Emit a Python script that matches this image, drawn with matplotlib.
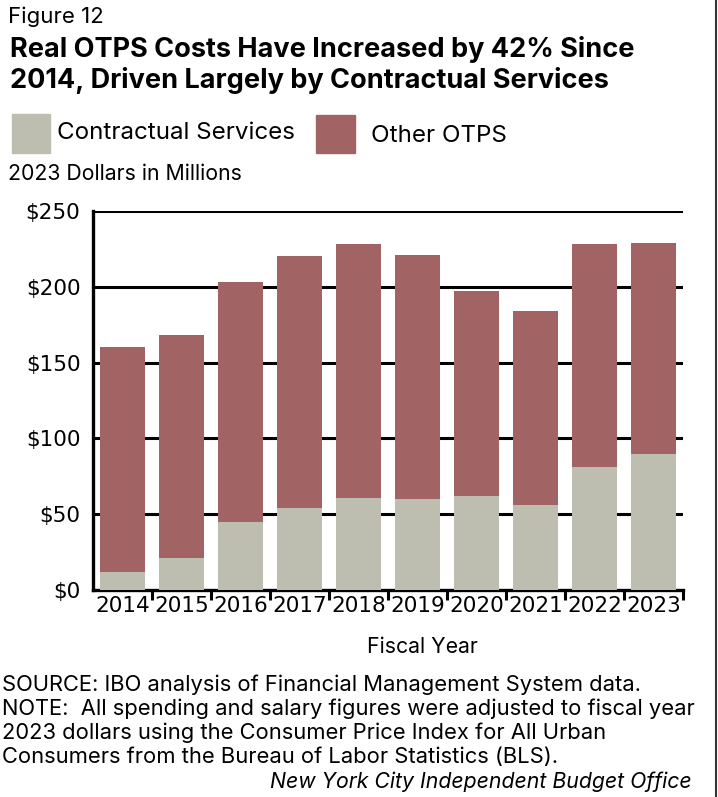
import matplotlib.pyplot as plt
import matplotlib.patches as mpatches
import numpy as np

# Real OTPS spending, 2023 dollars in millions
years = ['2014', '2015', '2016', '2017', '2018', '2019', '2020', '2021', '2022', '2023']
contractual = [12, 21, 45, 54, 61, 60, 62, 56, 81, 90]
totals = [160, 168, 203, 220, 228, 221, 197, 184, 228, 229]
other_otps = [t - c for t, c in zip(totals, contractual)]

GREY = '#bdbeb0'
RED = '#a26364'
TEXT_FONT = ['Inter', 'DejaVu Sans']
TICK_FONT = ['DejaVu Sans']

W, H = 718, 797
fig = plt.figure(figsize=(W / 100, H / 100), dpi=100)


def fx(px):
    return px / W


def fy(py):
    return 1 - py / H


ax = fig.add_axes([fx(93), fy(590), fx(683) - fx(93), fy(211) - fy(590)])

x = np.arange(len(years))
ax.bar(x, contractual, width=0.75, color=GREY, zorder=3)
ax.bar(x, other_otps, width=0.75, bottom=contractual, color=RED, zorder=3)

ax.set_xlim(-0.5, len(years) - 0.5)
ax.set_ylim(0, 250)
ax.set_yticks(range(0, 251, 50))
ax.set_yticklabels([f'${v}' for v in range(0, 251, 50)], fontfamily=TICK_FONT, fontsize=15.5)
ax.tick_params(axis='y', length=0, pad=9)
for v in range(50, 251, 50):
    ax.axhline(v, color='black', lw=2.2, zorder=1)

# year labels centred under bars, tick marks on the category boundaries
ax.set_xticks(x)
ax.set_xticklabels(years, fontfamily=TICK_FONT, fontsize=15.5)
ax.tick_params(axis='x', length=0, pad=4)
ax.set_xticks(np.arange(0.5, len(years), 1), minor=True)
ax.tick_params(axis='x', which='minor', length=7, width=2.2, direction='out')

for side in ['top', 'right']:
    ax.spines[side].set_visible(False)
for side in ['left', 'bottom']:
    ax.spines[side].set_linewidth(2.4)

# header
fig.text(fx(8), fy(17), 'Figure 12', fontfamily=TEXT_FONT, fontsize=16, va='center')
fig.text(fx(10), fy(57), 'Real OTPS Costs Have Increased by 42% Since',
         fontfamily=TEXT_FONT, fontsize=19.5, fontweight='bold', va='baseline')
fig.text(fx(10), fy(88), '2014, Driven Largely by Contractual Services',
         fontfamily=TEXT_FONT, fontsize=19.5, fontweight='bold', va='baseline')

# legend
fig.patches.append(mpatches.Rectangle((fx(12), fy(153)), fx(38), fy(114) - fy(153),
                                      transform=fig.transFigure, color=GREY))
fig.patches.append(mpatches.Rectangle((fx(316), fy(153)), fx(39), fy(115) - fy(153),
                                      transform=fig.transFigure, color=RED))
fig.text(fx(57), fy(133), 'Contractual Services', fontfamily=TEXT_FONT, fontsize=17.4, va='center')
fig.text(fx(371), fy(136), 'Other OTPS', fontfamily=TEXT_FONT, fontsize=17.4, va='center')
fig.text(fx(8), fy(174), '2023 Dollars in Millions', fontfamily=TEXT_FONT, fontsize=15.3, va='center')

fig.text(fx(422), fy(647), 'Fiscal Year', fontfamily=TEXT_FONT, fontsize=15.3, ha='center', va='center')

notes = [
    'SOURCE: IBO analysis of Financial Management System data.',
    'NOTE:  All spending and salary figures were adjusted to fiscal year',
    '2023 dollars using the Consumer Price Index for All Urban',
    'Consumers from the Bureau of Labor Statistics (BLS).',
]
for i, line in enumerate(notes):
    fig.text(fx(2), fy(685 + 24 * i), line, fontfamily=TEXT_FONT, fontsize=15.8, va='center')
fig.text(fx(692), fy(782), 'New York City Independent Budget Office',
         fontfamily=TEXT_FONT, fontsize=15.3, style='italic', ha='right', va='center')

# frame line on the right edge
fig.add_artist(plt.Line2D([fx(716), fx(716)], [0, 1], color='#333333', lw=1.5,
                          transform=fig.transFigure))

fig.savefig('out.png', dpi=100)
